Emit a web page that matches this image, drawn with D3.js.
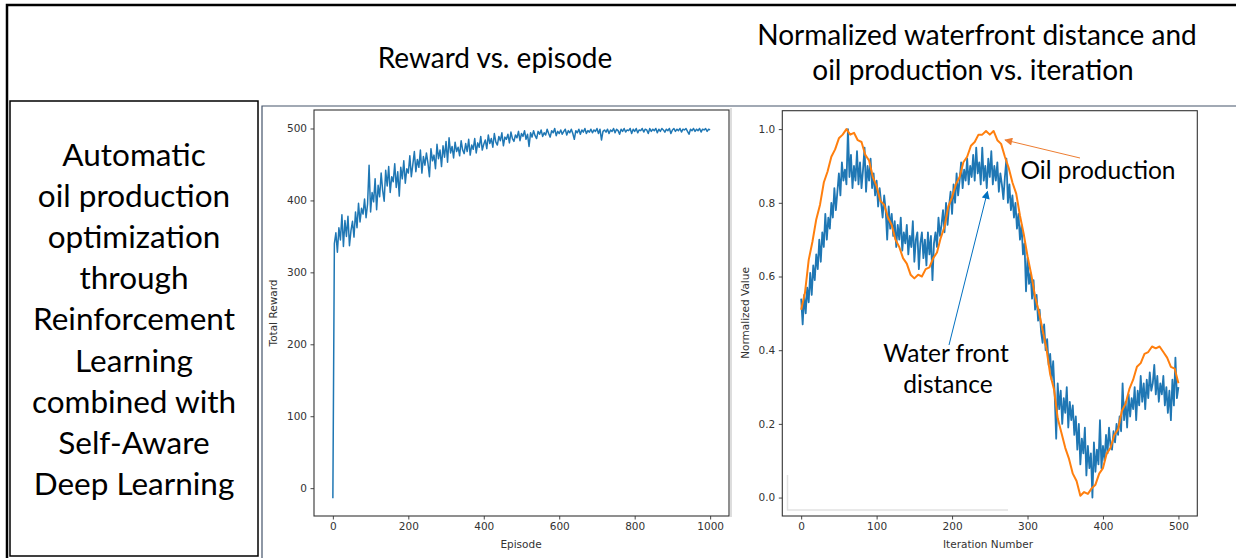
<!DOCTYPE html>
<html>
<head>
<meta charset="utf-8">
<script src="https://cdn.jsdelivr.net/npm/d3@7"></script>
<style>
  html, body { margin: 0; padding: 0; background: #fff; }
  svg { display: block; }
  .tick text { font-family: "DejaVu Sans", sans-serif; font-size: 10.5px; fill: #333; }
  .tick line { stroke: #333; stroke-width: 0.9; }
</style>
</head>
<body>
<div id="slide"></div>
<script>
// ---- data ----
const rewardEpisodes = d3.range(0, 1001, 4);
const rewardValues = [
  -14,
  340, 355, 328, 362, 345, 380, 336, 372, 350, 378,
  337, 358, 371, 349, 384, 362, 396, 370, 389, 381,
  402, 376, 395, 449, 384, 411, 398, 430, 387, 421,
  405, 438, 414, 399, 442, 420, 447, 411, 433, 426,
  451, 418, 440, 406, 446, 430, 455, 424, 444, 438,
  462, 433, 450, 468, 440, 457, 446, 470, 438, 461,
  449, 466, 452, 433, 472, 455, 463, 444, 478, 458,
  470, 447, 476, 460, 482, 453, 487, 466, 475, 459,
  481, 468, 474, 462, 483, 470, 465, 479, 468, 485,
  463, 477, 471, 486, 466, 480, 474, 489, 470, 478,
  484, 472, 491, 479, 486, 474, 493, 481, 477, 489,
  483, 494, 476, 488, 485, 492, 480, 495, 486, 482,
  491, 487, 496, 483, 493, 489, 497, 485, 492, 475,
  494, 488, 497, 490, 486, 496, 492, 498, 489, 494,
  491, 499, 493, 488, 497, 494, 500, 490, 496, 493,
  498, 492, 496, 499, 491, 497, 494, 499, 493, 485,
  497, 494, 499, 492, 498, 495, 500, 493, 497, 495,
  499, 494, 498, 496, 500, 493, 499, 484, 496, 498,
  495, 499, 493, 498, 496, 500, 494, 499, 497, 492,
  499, 496, 500, 495, 498, 497, 500, 493, 499, 496,
  500, 494, 498, 497, 500, 495, 499, 498, 493, 500,
  496, 499, 497, 500, 494, 499, 496, 500, 498, 495,
  499, 497, 500, 493, 498, 500, 496, 499, 497, 500,
  495, 499, 498, 500, 496, 492, 499, 497, 500, 496,
  499, 497, 500, 495, 499, 498, 500, 496, 499, 498
];

const waterIter = d3.range(0, 501, 2);
const waterValues = [
  0.54, 0.47, 0.55, 0.50, 0.57, 0.53, 0.61, 0.55, 0.63, 0.59,
  0.66, 0.62, 0.70, 0.64, 0.72, 0.68, 0.77, 0.70, 0.76, 0.73,
  0.80, 0.76, 0.84, 0.78, 0.83, 0.88, 0.82, 0.91, 0.86, 0.89,
  0.85, 1.00, 0.87, 0.93, 0.84, 0.90, 0.86, 0.94, 0.85, 0.91,
  0.84, 0.89, 0.95, 0.83, 0.90, 0.86, 0.92, 0.84, 0.88, 0.82,
  0.86, 0.79, 0.84, 0.80, 0.76, 0.82, 0.78, 0.70, 0.79, 0.73,
  0.77, 0.71, 0.75, 0.68, 0.74, 0.70, 0.76, 0.67, 0.72, 0.69,
  0.74, 0.66, 0.71, 0.68, 0.75, 0.64, 0.70, 0.72, 0.62, 0.69,
  0.72, 0.65, 0.70, 0.63, 0.72, 0.66, 0.71, 0.59, 0.69, 0.72,
  0.68, 0.76, 0.71, 0.74, 0.78, 0.72, 0.80, 0.74, 0.79, 0.83,
  0.77, 0.85, 0.80, 0.88, 0.82, 0.86, 0.91, 0.84, 0.89, 0.86,
  0.92, 0.85, 0.90, 0.87, 0.93, 0.86, 0.95, 0.88, 0.91, 0.85,
  0.95, 0.86, 0.90, 0.84, 0.92, 0.87, 0.94, 0.85, 0.90, 0.86,
  0.91, 0.83, 0.88, 0.85, 0.81, 0.87, 0.92, 0.80, 0.85, 0.78,
  0.82, 0.76, 0.80, 0.73, 0.77, 0.70, 0.74, 0.66, 0.69, 0.56,
  0.65, 0.58, 0.61, 0.54, 0.59, 0.51, 0.55, 0.48, 0.51, 0.45,
  0.42, 0.47, 0.40, 0.43, 0.36, 0.39, 0.32, 0.37, 0.28, 0.16,
  0.31, 0.24, 0.29, 0.20, 0.27, 0.23, 0.30, 0.19, 0.26, 0.21,
  0.25, 0.17, 0.22, 0.13, 0.20, 0.09, 0.16, 0.12, 0.19, 0.06,
  0.14, 0.08, 0.12, 0.00, 0.15, 0.07, 0.13, 0.09, 0.21, 0.08,
  0.14, 0.10, 0.17, 0.12, 0.19, 0.14, 0.13, 0.18, 0.15, 0.20,
  0.17, 0.22, 0.18, 0.31, 0.21, 0.26, 0.19, 0.28, 0.22, 0.27,
  0.24, 0.30, 0.21, 0.29, 0.25, 0.33, 0.26, 0.31, 0.24, 0.32,
  0.27, 0.34, 0.29, 0.31, 0.36, 0.28, 0.33, 0.26, 0.31, 0.28,
  0.33, 0.25, 0.30, 0.23, 0.29, 0.21, 0.32, 0.25, 0.38, 0.27,
  0.30
];

const oilIter = d3.range(0, 501, 5);
const oilValues = [
  0.51, 0.555, 0.645, 0.695, 0.755, 0.795, 0.855, 0.885, 0.925, 0.945,
  0.975, 0.985, 1.00, 0.985, 0.99, 0.97, 0.965, 0.93, 0.915, 0.87,
  0.845, 0.805, 0.795, 0.76, 0.74, 0.70, 0.68, 0.65, 0.635, 0.605,
  0.595, 0.605, 0.60, 0.62, 0.625, 0.65, 0.665, 0.705, 0.735, 0.79,
  0.815, 0.85, 0.87, 0.91, 0.925, 0.955, 0.965, 0.985, 0.985, 0.995,
  0.985, 0.995, 0.97, 0.96, 0.925, 0.895, 0.855, 0.825, 0.765, 0.715,
  0.655, 0.605, 0.545, 0.505, 0.455, 0.405, 0.335, 0.295, 0.215, 0.175,
  0.135, 0.105, 0.065, 0.045, 0.005, 0.015, 0.01, 0.025, 0.035, 0.065,
  0.08, 0.12, 0.135, 0.17, 0.185, 0.235, 0.255, 0.295, 0.32, 0.355,
  0.365, 0.39, 0.395, 0.41, 0.405, 0.41, 0.395, 0.38, 0.355, 0.35,
  0.31
];

const rewardTicksY = [0, 100, 200, 300, 400, 500];
const rewardTicksX = [0, 200, 400, 600, 800, 1000];
const normTicksY = [0.0, 0.2, 0.4, 0.6, 0.8, 1.0];
const normTicksX = [0, 100, 200, 300, 400, 500];

const sideLines = ["Automatic", "oil production", "optimization", "through",
  "Reinforcement", "Learning", "combined with", "Self-Aware", "Deep Learning"];

drawSlide();

function drawSlide() {
    const svg = d3.select("#slide").append("svg")
        .attr("width", 1236)
        .attr("height", 558);

    const slideFont = "Lato, 'Open Sans', sans-serif";

    // slide frame
    svg.append("path")
        .attr("d", "M7,560 V5 H1240")
        .attr("fill", "none")
        .attr("stroke", "#000")
        .attr("stroke-width", 2.5);

    // left text box
    svg.append("rect")
        .attr("x", 10).attr("y", 101)
        .attr("width", 248).attr("height", 455)
        .attr("fill", "none")
        .attr("stroke", "#000")
        .attr("stroke-width", 1.5);

    svg.append("g").selectAll("text")
        .data(sideLines)
        .enter().append("text")
        .attr("x", 134)
        .attr("y", (d, i) => 166 + i * 41.1)
        .attr("text-anchor", "middle")
        .attr("font-family", slideFont)
        .attr("font-size", 31.5)
        .attr("fill", "#000")
        .text(d => d);

    // picture borders
    svg.append("path")
        .attr("d", "M262,560 V106 H1240")
        .attr("fill", "none")
        .attr("stroke", "#44546a")
        .attr("stroke-width", 1.2);
    svg.append("line")
        .attr("x1", 731).attr("x2", 731)
        .attr("y1", 108).attr("y2", 517)
        .attr("stroke", "#bbb")
        .attr("stroke-width", 1);

    // titles
    svg.append("text")
        .attr("x", 495).attr("y", 68)
        .attr("text-anchor", "middle")
        .attr("font-family", slideFont)
        .attr("font-size", 28)
        .text("Reward vs. episode");
    svg.append("text")
        .attr("x", 977).attr("y", 45)
        .attr("text-anchor", "middle")
        .attr("font-family", slideFont)
        .attr("font-size", 28)
        .text("Normalized waterfront distance and");
    svg.append("text")
        .attr("x", 973).attr("y", 80)
        .attr("text-anchor", "middle")
        .attr("font-family", slideFont)
        .attr("font-size", 28)
        .text("oil production vs. iteration");

    rewardChart(svg);
    normChart(svg, slideFont);
}

function frameAxes(svg, x, y, xTicks, yTicks, fmt) {
    const [x0, x1] = x.range();
    const [y0, y1] = y.range();

    svg.append("g")
        .attr("transform", `translate(0,${y0})`)
        .call(d3.axisBottom(x).tickValues(xTicks).tickSize(3.5).tickPadding(3.5).tickFormat(fmt.x))
        .call(g => g.select(".domain").remove());

    svg.append("g")
        .attr("transform", `translate(${x0},0)`)
        .call(d3.axisLeft(y).tickValues(yTicks).tickSize(3.5).tickPadding(3.5).tickFormat(fmt.y))
        .call(g => g.select(".domain").remove());

    svg.append("rect")
        .attr("x", x0).attr("y", y1)
        .attr("width", x1 - x0).attr("height", y0 - y1)
        .attr("fill", "none")
        .attr("stroke", "#333")
        .attr("stroke-width", 1.1);
}

function rewardChart(svg) {
    const x = d3.scaleLinear().domain([-50, 1050]).range([314, 729]);
    const y = d3.scaleLinear().domain([-38.7, 525.7]).range([516, 110]);

    const data = rewardEpisodes.map((e, i) => ({ x: e, y: rewardValues[i] }));

    svg.append("path")
        .datum(data)
        .attr("fill", "none")
        .attr("stroke", "#1f77b4")
        .attr("stroke-width", 1.5)
        .attr("stroke-linejoin", "round")
        .attr("d", d3.line().x(d => x(d.x)).y(d => y(d.y)));

    frameAxes(svg, x, y, rewardTicksX, rewardTicksY, { x: d3.format("d"), y: d3.format("d") });

    svg.append("text")
        .attr("x", 521).attr("y", 548)
        .attr("text-anchor", "middle")
        .attr("font-family", "DejaVu Sans, sans-serif")
        .attr("font-size", 10.5)
        .attr("fill", "#333")
        .text("Episode");
    svg.append("text")
        .attr("transform", "translate(277,313) rotate(-90)")
        .attr("text-anchor", "middle")
        .attr("font-family", "DejaVu Sans, sans-serif")
        .attr("font-size", 10.5)
        .attr("fill", "#333")
        .text("Total Reward");
}

function normChart(svg, slideFont) {
    const x = d3.scaleLinear().domain([-25, 525]).range([782.3, 1197.3]);
    const y = d3.scaleLinear().domain([-0.05, 1.05]).range([516, 110.7]);

    // faint leftover mark inside the plot
    svg.append("path")
        .attr("d", "M787.5,475 V510 H1008")
        .attr("fill", "none")
        .attr("stroke", "#e2e2e2")
        .attr("stroke-width", 1.5);

    const water = waterIter.map((t, i) => ({ x: t, y: waterValues[i] }));
    const oil = oilIter.map((t, i) => ({ x: t, y: oilValues[i] }));
    const line = d3.line().x(d => x(d.x)).y(d => y(d.y));

    svg.append("path")
        .datum(water)
        .attr("fill", "none")
        .attr("stroke", "#1f77b4")
        .attr("stroke-width", 1.8)
        .attr("stroke-linejoin", "round")
        .attr("d", line);

    svg.append("path")
        .datum(oil)
        .attr("fill", "none")
        .attr("stroke", "#ff7f0e")
        .attr("stroke-width", 2)
        .attr("stroke-linejoin", "round")
        .attr("d", line);

    frameAxes(svg, x, y, normTicksX, normTicksY, { x: d3.format("d"), y: d3.format(".1f") });

    svg.append("text")
        .attr("x", 988).attr("y", 548)
        .attr("text-anchor", "middle")
        .attr("font-family", "DejaVu Sans, sans-serif")
        .attr("font-size", 10.5)
        .attr("fill", "#333")
        .text("Iteration Number");
    svg.append("text")
        .attr("transform", "translate(749,313) rotate(-90)")
        .attr("text-anchor", "middle")
        .attr("font-family", "DejaVu Sans, sans-serif")
        .attr("font-size", 10.5)
        .attr("fill", "#333")
        .text("Normalized Value");

    // annotation arrows
    const defs = svg.append("defs");
    [["headOrange", "#ed7d31"], ["headBlue", "#0070c0"]].forEach(([id, c]) => {
        defs.append("marker")
            .attr("id", id)
            .attr("viewBox", "0 0 10 10")
            .attr("refX", 9).attr("refY", 5)
            .attr("markerWidth", 10).attr("markerHeight", 8)
            .attr("markerUnits", "userSpaceOnUse")
            .attr("orient", "auto")
            .append("path")
            .attr("d", "M0,0 L10,5 L0,10 Z")
            .attr("fill", c);
    });

    svg.append("line")
        .attr("x1", 1080).attr("y1", 158)
        .attr("x2", 1005).attr("y2", 140)
        .attr("stroke", "#ed7d31")
        .attr("stroke-width", 1)
        .attr("marker-end", "url(#headOrange)");

    svg.append("line")
        .attr("x1", 949).attr("y1", 345)
        .attr("x2", 987.5).attr("y2", 191.5)
        .attr("stroke", "#0070c0")
        .attr("stroke-width", 1)
        .attr("marker-end", "url(#headBlue)");

    svg.append("text")
        .attr("x", 1098).attr("y", 179)
        .attr("text-anchor", "middle")
        .attr("font-family", slideFont)
        .attr("font-size", 24.5)
        .text("Oil production");
    svg.append("text")
        .attr("x", 946).attr("y", 362)
        .attr("text-anchor", "middle")
        .attr("font-family", slideFont)
        .attr("font-size", 24.5)
        .text("Water front");
    svg.append("text")
        .attr("x", 948).attr("y", 393)
        .attr("text-anchor", "middle")
        .attr("font-family", slideFont)
        .attr("font-size", 24.5)
        .text("distance");
}
</script>
</body>
</html>
